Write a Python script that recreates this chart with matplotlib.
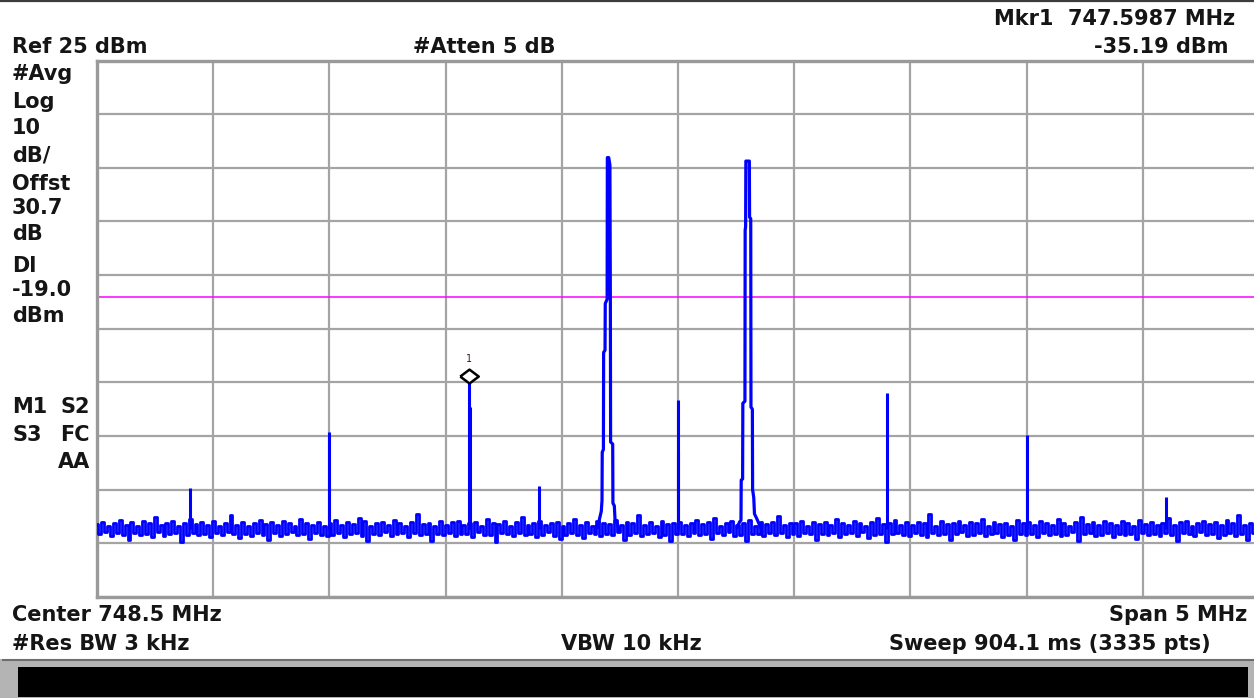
import numpy as np
import matplotlib
matplotlib.use("Agg")
import matplotlib.pyplot as plt
from matplotlib.patches import Rectangle
from matplotlib.lines import Line2D

# screen size of the analyzer capture
W, H = 1254, 698

# sweep settings (MHz, dBm)
f_start, f_stop = 746.0, 751.0
ref_level, db_per_div = 25.0, 10.0
display_line = -19.0
noise_floor = -62.3

# noise band: upper and lower excursions (dB) around the floor, left to right
noise_hi = [
    0.9, 1.3, 0.6, 1.1, 1.7, 0.8, 1.2, 0.5, 1.5, 1.0, 2.3, 0.7, 1.1, 1.4, 0.6, 1.0, 1.8, 0.9, 1.2, 0.7,
    1.4, 0.6, 1.0, 2.6, 0.8, 1.3, 0.5, 1.1, 1.6, 0.9, 1.2, 0.7, 1.5, 1.0, 0.6, 1.9, 1.1, 0.8, 1.3, 0.5,
    1.0, 1.6, 0.7, 1.2, 0.9, 2.1, 1.4, 0.6, 1.1, 1.3, 0.8, 1.7, 1.0, 0.5, 1.2, 2.8, 0.9, 1.1, 0.6, 1.4,
    0.8, 1.2, 1.5, 0.7, 1.0, 1.3, 0.6, 1.8, 1.1, 0.9, 1.4, 0.5, 1.2, 2.2, 0.8, 1.0, 1.5, 0.7, 1.1, 1.3,
    0.6, 1.0, 1.9, 0.8, 1.2, 0.5, 1.4, 1.1, 0.9, 1.6, 0.7, 1.3, 1.0, 2.5, 0.8, 1.2, 0.6, 1.5, 0.9, 1.1,
    1.3, 0.7, 1.0, 1.6, 0.9, 1.2, 2.0, 0.6, 1.1, 1.4, 0.8, 1.0, 1.7, 0.5, 1.2, 0.9, 1.3, 2.4, 0.7, 1.0,
    1.1, 1.5, 0.6, 1.2, 0.9, 1.3, 0.7, 1.8, 1.0, 0.8, 1.4, 1.1, 0.6, 1.2, 2.1, 0.9, 1.0, 1.6, 0.7, 1.3,
    0.8, 1.2, 1.0, 2.7, 0.6, 1.4, 0.9, 1.1, 1.5, 0.7, 1.2, 1.0, 1.8, 0.6, 1.3, 0.9, 1.1, 0.5, 1.6, 1.0,
    1.2, 0.7, 1.4, 1.0, 0.8, 1.9, 1.1, 0.6, 1.3, 2.3, 0.9, 1.2, 0.7, 1.5, 1.0, 0.8, 1.4, 1.1, 0.6, 1.7,
    0.9, 1.3, 0.7, 1.1, 2.0, 0.8, 1.2, 1.5, 0.6, 1.0, 1.4, 0.9, 1.2, 0.7, 1.6, 1.1, 2.6, 0.8, 1.0, 1.3,
]
noise_lo = [
    -1.0, -0.6, -1.4, -0.8, -1.2, -2.1, -0.7, -1.1, -0.9, -1.5, -0.6, -1.3, -1.0, -0.8, -2.4, -1.1, -0.7, -1.2, -0.9, -1.6,
    -0.8, -1.2, -0.6, -1.0, -1.7, -0.9, -1.3, -0.7, -1.1, -2.0, -0.8, -1.4, -1.0, -0.6, -1.2, -0.9, -1.8, -0.7, -1.1, -1.3,
    -1.2, -0.7, -1.5, -1.0, -0.8, -1.3, -2.3, -0.9, -1.1, -0.6, -1.4, -1.0, -0.8, -1.6, -0.7, -1.2, -1.0, -2.2, -0.9, -1.1,
    -0.7, -1.3, -1.0, -0.9, -1.6, -0.6, -1.2, -1.1, -2.5, -0.8, -1.0, -1.4, -0.7, -1.2, -0.9, -1.5, -1.1, -0.6, -1.3, -1.9,
    -1.1, -0.8, -1.2, -1.7, -0.7, -1.0, -1.4, -0.9, -1.1, -0.6, -2.0, -1.2, -0.8, -1.3, -1.0, -0.7, -1.5, -1.1, -2.3, -0.9,
    -0.9, -1.4, -0.7, -1.1, -1.0, -1.8, -0.8, -1.2, -0.6, -1.3, -1.1, -2.2, -0.9, -1.0, -1.4, -0.7, -1.2, -0.8, -1.6, -1.0,
    -1.3, -0.8, -1.0, -2.1, -0.9, -1.2, -0.7, -1.5, -1.0, -0.8, -1.3, -0.6, -1.7, -1.1, -0.9, -2.4, -1.0, -0.7, -1.2, -1.4,
    -0.8, -1.1, -1.5, -0.7, -1.2, -0.9, -2.0, -1.0, -0.6, -1.3, -1.1, -0.8, -1.4, -1.0, -0.7, -1.6, -1.2, -2.1, -0.9, -1.1,
    -1.0, -1.6, -0.7, -1.2, -0.9, -1.4, -1.1, -0.6, -2.3, -1.0, -0.8, -1.3, -1.1, -0.7, -1.5, -0.9, -1.2, -1.0, -1.8, -0.8,
    -1.2, -0.9, -1.3, -0.7, -1.1, -2.2, -0.8, -1.0, -1.4, -0.6, -1.2, -0.9, -1.7, -1.1, -0.8, -1.3, -1.0, -2.0, -0.7, -1.2,
]

# the two carriers: centre (MHz), then trace shape as offset (kHz) / level (dBm)
carrier1_f = 748.20
carrier1_off = [-45, -38, -30, -27, -26, -21, -20, -14, -13, -5, -4, 2, 7, 9, 10, 19, 20, 26, 29, 36, 45]
carrier1_lvl = [-62.0, -60.5, -59.0, -57.0, -48.0, -47.5, -29.4, -29.0, -20.3, -19.5, 6.9, 6.9, 5.5,
                -20.3, -46.1, -46.5, -57.5, -58.0, -60.5, -61.0, -62.5]
carrier2_f = 748.80
carrier2_off = [-45, -35, -29, -28, -22, -21, -12, -11, -9, -8, 7, 8, 13, 14, 20, 21, 26, 29, 40, 55]
carrier2_lvl = [-62.0, -61.0, -60.7, -53.2, -53.0, -38.9, -38.5, -6.6, -6.0, 6.25, 6.25, -4.2, -4.5,
                -39.6, -40.0, -55.0, -56.5, -59.5, -60.5, -62.0]

# intermod / spurious lines (MHz, dBm)
spur_f = [746.40, 747.00, 747.5987, 747.606, 747.90, 748.50, 748.502, 749.40, 750.00, 750.60]
spur_lvl = [-54.6, -44.3, -35.19, -39.6, -54.3, -38.3, -47.9, -37.0, -44.8, -56.4]

# marker 1
mkr_f, mkr_lvl = 747.5987, -35.19

blue = "#0000ff"
txt_kw = dict(family="DejaVu Sans", weight="bold", fontsize=15, color="#151515")

fig = plt.figure(figsize=(W / 100, H / 100), dpi=100)
fig.patch.set_facecolor("white")


def fx(x):
    return x / W


def fy(y):
    return 1 - y / H


ax = fig.add_axes([fx(97), fy(597), (1259 - 97) / W, (597 - 60.5) / H])
ax.set_xlim(f_start, f_stop)
ax.set_ylim(ref_level - 10 * db_per_div, ref_level)
ax.set_xticks(np.arange(f_start, f_stop + 0.01, 0.5))
ax.set_yticks(np.arange(ref_level - 10 * db_per_div, ref_level + 1, db_per_div))
ax.tick_params(length=0, labelbottom=False, labelleft=False)
ax.grid(color="#a4a4a4", lw=1.6)
ax.set_axisbelow(True)
for s in ax.spines.values():
    s.set_color("#9a9a9a")
    s.set_linewidth(2.4)

ax.axhline(display_line, color="#ff00ff", lw=1.1, zorder=2)

# noise band drawn as alternating high/low samples
band = np.column_stack([noise_hi, noise_lo]).ravel()
freqs = np.linspace(f_start, f_stop, len(band))
ax.plot(freqs, noise_floor + band, color=blue, lw=2.0, drawstyle="steps-mid", zorder=3)
ax.plot(carrier1_f + np.array(carrier1_off) / 1000, carrier1_lvl, color=blue, lw=2.3, zorder=3)
ax.plot(carrier2_f + np.array(carrier2_off) / 1000, carrier2_lvl, color=blue, lw=2.3, zorder=3)
ax.vlines(spur_f, noise_floor, spur_lvl, color=blue, lw=2.2, zorder=3)

# diamond marker sitting on top of the peak
diamond = [(-1, 0.75), (0, 1.5), (1, 0.75), (0, 0), (-1, 0.75)]
ax.plot(mkr_f, mkr_lvl, marker=diamond, ms=20, mfc="white", mec="black", mew=1.8, zorder=5)
ax.annotate("1", (mkr_f, mkr_lvl), xytext=(0, 24), textcoords="offset pixels", ha="center",
            va="center", family="DejaVu Sans Mono", fontsize=7, color="#3a1a1a", zorder=5)

# header
fig.text(fx(1235), fy(25), "Mkr1  747.5987 MHz", ha="right", va="baseline", **txt_kw)
fig.text(fx(12), fy(53), "Ref 25 dBm", ha="left", va="baseline", **txt_kw)
fig.text(fx(413), fy(53), "#Atten 5 dB", ha="left", va="baseline", **txt_kw)
fig.text(fx(1228), fy(53), "-35.19 dBm", ha="right", va="baseline", **txt_kw)

# left annotation column
left_lines = ["#Avg", "Log", "10", "dB/", "Offst", "30.7", "dB", "Dl", "-19.0", "dBm"]
left_base = [79.5, 107.5, 133.5, 161.5, 189.5, 214.5, 240.5, 271.5, 296.5, 322.5]
for s, y in zip(left_lines, left_base):
    fig.text(fx(12), fy(y), s, ha="left", va="baseline", **txt_kw)
fig.text(fx(12), fy(413), "M1", ha="left", va="baseline", **txt_kw)
fig.text(fx(90), fy(413), "S2", ha="right", va="baseline", **txt_kw)
fig.text(fx(12), fy(441), "S3", ha="left", va="baseline", **txt_kw)
fig.text(fx(90), fy(441), "FC", ha="right", va="baseline", **txt_kw)
fig.text(fx(90), fy(468), "AA", ha="right", va="baseline", **txt_kw)

# footer
fig.text(fx(12), fy(621), "Center 748.5 MHz", ha="left", va="baseline", **txt_kw)
fig.text(fx(1247), fy(621), "Span 5 MHz", ha="right", va="baseline", **txt_kw)
fig.text(fx(12), fy(650), "#Res BW 3 kHz", ha="left", va="baseline", **txt_kw)
fig.text(fx(631), fy(650), "VBW 10 kHz", ha="center", va="baseline", **txt_kw)
fig.text(fx(1211), fy(650), "Sweep 904.1 ms (3335 pts)", ha="right", va="baseline", **txt_kw)

# window chrome: top rule and black status bar
fig.add_artist(Line2D([0, 1], [fy(1), fy(1)], color="#3c3c3c", lw=1.6))
fig.add_artist(Rectangle((fx(0), fy(698)), 1, (698 - 659) / H, facecolor="#b4b4b4",
                         edgecolor="none"))
fig.add_artist(Line2D([fx(3), 1], [fy(660), fy(660)], color="#6e6e6e", lw=1.5))
fig.add_artist(Rectangle((fx(18), fy(697)), (1248 - 18) / W, (697 - 667) / H, facecolor="black",
                         edgecolor="none"))

fig.savefig("out.png", dpi=100)
